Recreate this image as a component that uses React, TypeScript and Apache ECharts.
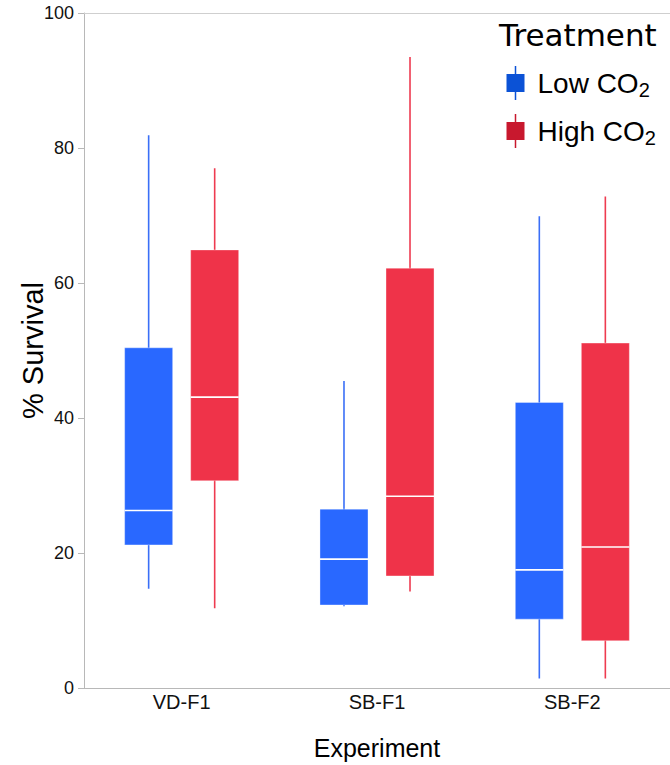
import React, { useEffect, useRef } from "react";
import * as echarts from "echarts";

const categories = ["VD-F1", "SB-F1", "SB-F2"];
const yTicks = [0, 20, 40, 60, 80, 100];

const lowMin = [14.7, 12.1, 1.4];
const lowQ1 = [21.2, 12.3, 10.2];
const lowMedian = [26.3, 19.1, 17.5];
const lowQ3 = [50.4, 26.5, 42.3];
const lowMax = [81.9, 45.5, 69.9];

const highMin = [11.8, 14.3, 1.4];
const highQ1 = [30.7, 16.6, 7.0];
const highMedian = [43.1, 28.4, 20.9];
const highQ3 = [64.9, 62.2, 51.1];
const highMax = [77.0, 93.5, 72.8];

const seriesNames = ["Low CO2", "High CO2"];

function buildData(mn: number[], q1: number[], md: number[], q3: number[], mx: number[]) {
  return categories.map((_, i) => [i, mn[i], q1[i], md[i], q3[i], mx[i]]);
}

function makeRenderItem(side: number, fill: string, whisker: string) {
  return (params: any, api: any) => {
    const idx = api.value(0);
    const pMin = api.coord([idx, api.value(1)]);
    const pQ1 = api.coord([idx, api.value(2)]);
    const pMed = api.coord([idx, api.value(3)]);
    const pQ3 = api.coord([idx, api.value(4)]);
    const pMax = api.coord([idx, api.value(5)]);
    const band = api.size([1, 0])[0];
    const cx = pMin[0] + side * band * 0.169;
    const halfW = band * 0.1229;
    return {
      type: "group",
      children: [
        {
          type: "line",
          shape: { x1: cx, y1: pMax[1], x2: cx, y2: pMin[1] },
          style: { stroke: whisker, lineWidth: 1.6 },
        },
        {
          type: "rect",
          shape: { x: cx - halfW, y: pQ3[1], width: halfW * 2, height: pQ1[1] - pQ3[1] },
          style: { fill, stroke: "rgba(255,255,255,0.35)", lineWidth: 1 },
        },
        {
          type: "line",
          shape: { x1: cx - halfW, y1: pMed[1], x2: cx + halfW, y2: pMed[1] },
          style: { stroke: "#ffffff", lineWidth: 1.6 },
        },
      ],
    };
  };
}

const iconPath = "path://M8.25,0H9.75V8H18V26H9.75V34H8.25V26H0V8H8.25Z";

export default function App() {
  const ref = useRef<HTMLDivElement>(null);
  useEffect(() => {
    document.body.style.margin = "0";
    if (!ref.current) return;
    const chart = echarts.init(ref.current, undefined, { renderer: "svg" });
    const axisGrey = "#b8b8b8";
    const font = "Liberation Sans";
    chart.setOption({
      animation: false,
      backgroundColor: "#ffffff",
      title: {
        text: "Treatment",
        left: 499,
        top: 19,
        padding: 0,
        textStyle: { fontFamily: "DejaVu Sans", fontSize: 31, fontWeight: "normal", color: "#000" },
      },
      legend: {
        orient: "vertical",
        left: 506.5,
        top: 66,
        padding: 0,
        itemWidth: 18,
        itemHeight: 34,
        itemGap: 14,
        icon: iconPath,
        data: [
          { name: seriesNames[0], itemStyle: { color: "#0b52d6" } },
          { name: seriesNames[1], itemStyle: { color: "#c8182e" } },
        ],
        formatter: (name: string) => name.replace("CO2", "CO{s|2}"),
        textStyle: {
          fontFamily: font,
          fontSize: 28,
          lineHeight: 34,
          color: "#000",
          padding: [0, 0, 0, 8],
          rich: {
            s: { fontFamily: font, fontSize: 20, lineHeight: 20, verticalAlign: "bottom", color: "#000" },
          },
        },
      },
      grid: { left: 84, right: 0, top: 13, bottom: 77, containLabel: false, outerBoundsMode: "none" },
      xAxis: [
        {
          type: "category",
          data: categories,
          position: "bottom",
          name: "Experiment",
          nameLocation: "middle",
          nameGap: 47,
          nameMoveOverlap: false,
          nameTextStyle: { fontFamily: font, fontSize: 25, color: "#000" },
          axisLine: { show: true, lineStyle: { color: axisGrey, width: 1 } },
          axisTick: { show: false },
          axisLabel: { fontFamily: font, fontSize: 20, color: "#111", margin: 4 },
          splitLine: { show: false },
        },
        {
          type: "category",
          data: categories,
          position: "top",
          axisLine: { show: true, lineStyle: { color: "#cfcfcf", width: 1 } },
          axisTick: { show: false },
          axisLabel: { show: false },
          splitLine: { show: false },
        },
      ],
      yAxis: {
        type: "value",
        min: yTicks[0],
        max: yTicks[yTicks.length - 1],
        interval: 20,
        name: "% Survival",
        nameLocation: "middle",
        nameGap: 37,
        nameMoveOverlap: false,
        nameTextStyle: { fontFamily: font, fontSize: 29, color: "#000" },
        axisLine: { show: true, lineStyle: { color: axisGrey, width: 1 } },
        axisTick: { show: true, length: 6, lineStyle: { color: axisGrey } },
        axisLabel: {
          fontFamily: font,
          fontSize: 18,
          color: "#111",
          margin: 10,
        },
        splitLine: { show: false },
      },
      series: [
        {
          name: seriesNames[0],
          type: "custom",
          itemStyle: { color: "#0b52d6" },
          encode: { x: 0, y: [1, 2, 3, 4, 5] },
          renderItem: makeRenderItem(-1, "#2968ff", "#3a6ff7"),
          data: buildData(lowMin, lowQ1, lowMedian, lowQ3, lowMax),
        },
        {
          name: seriesNames[1],
          type: "custom",
          itemStyle: { color: "#c8182e" },
          encode: { x: 0, y: [1, 2, 3, 4, 5] },
          renderItem: makeRenderItem(1, "#ef3349", "#ee3b50"),
          data: buildData(highMin, highQ1, highMedian, highQ3, highMax),
        },
      ],
    });
    return () => chart.dispose();
  }, []);
  return <div ref={ref} style={{ width: 670, height: 765 }} />;
}
